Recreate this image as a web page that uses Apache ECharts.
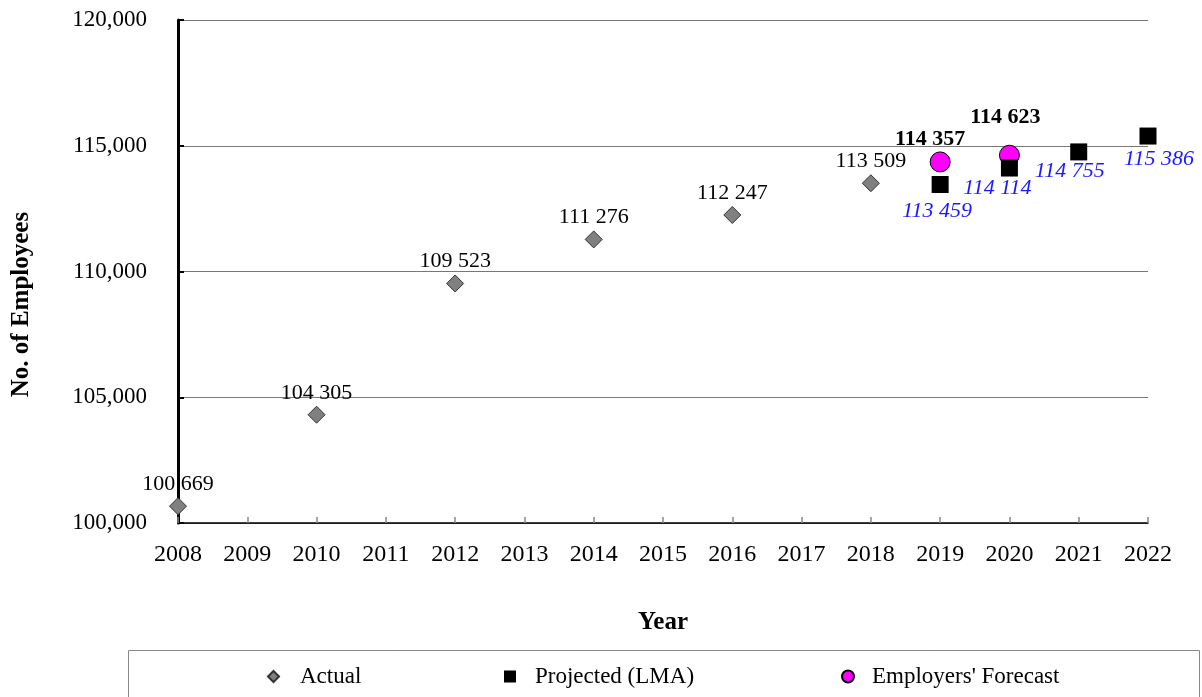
<!DOCTYPE html>
<html>
<head>
<meta charset="utf-8">
<script src="https://cdn.jsdelivr.net/npm/echarts@6/dist/echarts.min.js"></script>
<style>
  html, body { margin: 0; padding: 0; background: #fff; }
  #chart { width: 1202px; height: 697px; }
</style>
</head>
<body>
<div id="chart"></div>
<script>
// Employment: actual counts, LMA projections and employers' forecast
const actualYears = [2008, 2010, 2012, 2014, 2016, 2018];
const actualValues = [100669, 104305, 109523, 111276, 112247, 113509];

const projectedYears = [2019, 2020, 2021, 2022];
const projectedValues = [113459, 114114, 114755, 115386];

const forecastYears = [2019, 2020];
const forecastValues = [114357, 114623];

const yTicks = [100000, 105000, 110000, 115000, 120000];

const FONT = '"Liberation Serif", "Times New Roman", serif';

function spaced(v) {
  return String(v).replace(/\B(?=(\d{3})+(?!\d))/g, ' ');
}
function commas(v) {
  return String(v).replace(/\B(?=(\d{3})+(?!\d))/g, ',');
}

// label placement (relative to each marker centre)
const projectedLabelOffsets = [[-3, 27], [-12, 20], [-9, 19], [11, 23]];
const forecastLabelOffsets = [[-10, -23], [-4, -38]];

const chart = echarts.init(document.getElementById('chart'));

chart.setOption({
  animation: false,
  backgroundColor: '#fff',
  textStyle: { fontFamily: FONT },
  grid: { left: 178, right: 54, top: 20, bottom: 174, containLabel: false, outerBoundsMode: 'none' },
  xAxis: {
    type: 'value',
    min: 2008,
    max: 2022,
    interval: 1,
    name: 'Year',
    nameLocation: 'middle',
    nameGap: 87,
    nameTextStyle: { fontFamily: FONT, fontSize: 25, fontWeight: 'bold', color: '#000' },
    axisLine: { show: true, onZero: false, lineStyle: { color: '#000', width: 1.5 } },
    axisTick: { show: true, inside: true, length: 6, lineStyle: { color: '#888', width: 1.5 } },
    axisLabel: { fontFamily: FONT, fontSize: 24, color: '#000', margin: 20, formatter: v => String(v) },
    splitLine: { show: false }
  },
  yAxis: {
    type: 'value',
    min: yTicks[0],
    max: yTicks[yTicks.length - 1],
    interval: 5000,
    name: 'No. of Employees',
    nameLocation: 'middle',
    nameGap: 144,
    nameTextStyle: {
      fontFamily: FONT, fontSize: 25, fontWeight: 'bold', color: '#000',
      padding: [0, 66, 0, 0]
    },
    axisLine: { show: true, lineStyle: { color: '#000', width: 3 } },
    axisTick: { show: true, inside: true, length: 6, lineStyle: { color: '#000', width: 2 } },
    axisLabel: { fontFamily: FONT, fontSize: 23, color: '#000', margin: 31, formatter: v => commas(v) },
    splitLine: { show: true, lineStyle: { color: '#777', width: 1 } }
  },
  legend: [
    {
      data: ['Actual'], left: 262, top: 660, icon: 'diamond', itemWidth: 11, itemHeight: 11, itemGap: 0,
      textStyle: { fontFamily: FONT, fontSize: 23, color: '#000', padding: [0, 0, 0, 16] }
    },
    {
      data: ['Projected (LMA)'], left: 499, top: 660, icon: 'rect', itemWidth: 12, itemHeight: 12, itemGap: 0,
      textStyle: { fontFamily: FONT, fontSize: 23, color: '#000', padding: [0, 0, 0, 14] }
    },
    {
      data: ["Employers' Forecast"], left: 836, top: 660, icon: 'circle', itemWidth: 12, itemHeight: 12, itemGap: 0,
      textStyle: { fontFamily: FONT, fontSize: 23, color: '#000', padding: [0, 0, 0, 13] }
    }
  ],
  graphic: [
    {
      type: 'rect',
      shape: { x: 128.5, y: 650.5, width: 1071, height: 60 },
      style: { fill: 'none', stroke: '#888', lineWidth: 1 },
      silent: true
    }
  ],
  series: [
    {
      name: 'Actual',
      type: 'scatter',
      symbol: 'diamond',
      symbolSize: 17,
      itemStyle: { color: '#808080', borderColor: '#333', borderWidth: 1, opacity: 1 },
      data: actualYears.map((y, i) => [y, actualValues[i]]),
      label: {
        show: true, position: 'top', distance: 2,
        fontFamily: FONT, fontSize: 22, color: '#000',
        formatter: p => spaced(p.value[1])
      },
      z: 3
    },
    {
      name: "Employers' Forecast",
      type: 'scatter',
      symbol: 'circle',
      symbolSize: 20,
      itemStyle: { color: '#ff00ff', borderColor: '#000', borderWidth: 1, opacity: 1 },
      data: forecastYears.map((y, i) => ({
        value: [y, forecastValues[i]],
        label: { offset: forecastLabelOffsets[i] }
      })),
      label: {
        show: true, position: 'inside',
        fontFamily: FONT, fontSize: 22, fontWeight: 'bold', color: '#000',
        formatter: p => spaced(p.value[1])
      },
      z: 4
    },
    {
      name: 'Projected (LMA)',
      type: 'scatter',
      symbol: 'rect',
      symbolSize: 17,
      itemStyle: { color: '#000', opacity: 1 },
      data: projectedYears.map((y, i) => ({
        value: [y, projectedValues[i]],
        label: { offset: projectedLabelOffsets[i] }
      })),
      label: {
        show: true, position: 'inside',
        fontFamily: FONT, fontSize: 22, fontStyle: 'italic', color: '#1a1aff',
        formatter: p => spaced(p.value[1])
      },
      z: 5
    }
  ]
});
</script>
</body>
</html>
